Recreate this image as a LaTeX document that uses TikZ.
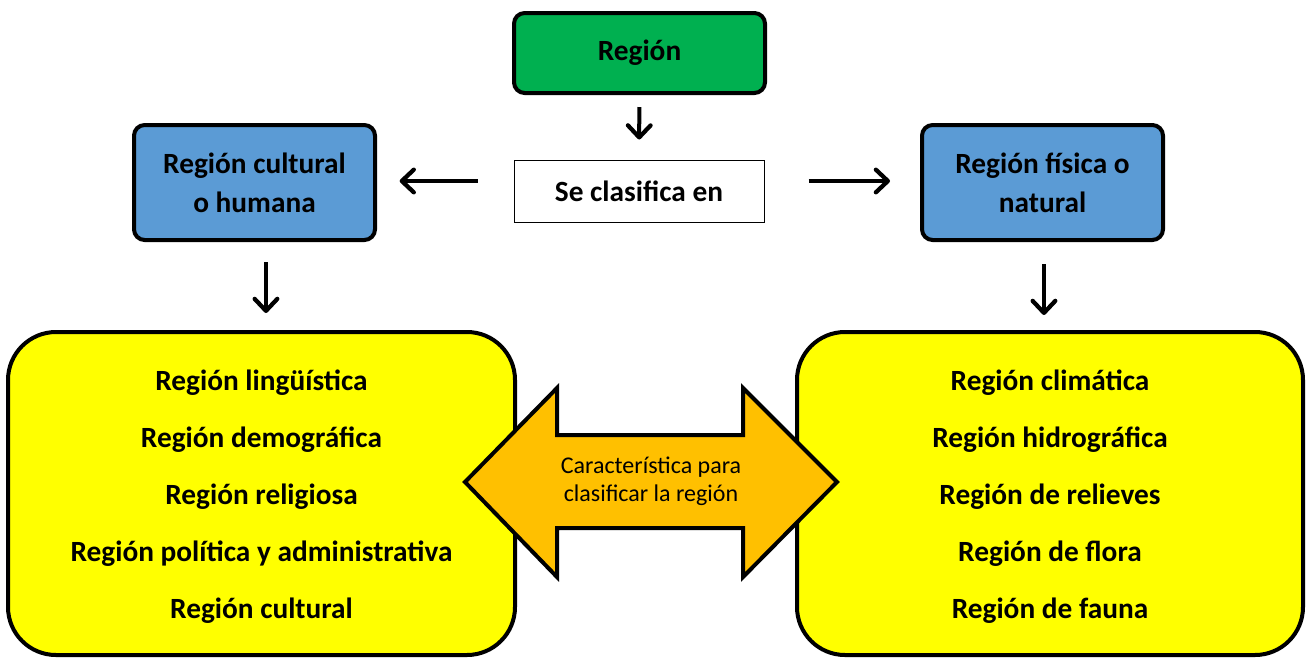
\documentclass[tikz,border=0pt]{standalone}
\usepackage{fontspec}
\setmainfont{Carlito}
\usetikzlibrary{arrows.meta,calc}
\definecolor{cgreen}{HTML}{00B050}
\definecolor{cblue}{HTML}{5B9BD5}
\definecolor{cyellow}{HTML}{FFFF00}
\definecolor{corange}{HTML}{FFC000}
\tikzset{
  box/.style={draw=black,line width=3pt,rounded corners=8pt,align=center,font=\fontsize{22}{26.5}\selectfont\bfseries,inner sep=0pt},
  bigbox/.style={draw=black,line width=3pt,rounded corners=36pt,fill=cyellow,inner sep=0pt},
  listtext/.style={align=center,inner sep=0pt,font=\fontsize{22}{42.75}\selectfont\bfseries},
  conn/.style={line width=3pt,-{Straight Barb[length=9pt,width=17pt,line width=3.2pt,round]}}
}
\begin{document}
\begin{tikzpicture}[x=0.75pt,y=-0.75pt]
\useasboundingbox (0,0) rectangle (1307,658);
\node[box,fill=cgreen,minimum width=188.25pt,minimum height=60pt] (reg) at (639.5,53) {Región};
\node[draw=black,line width=0.75pt,minimum width=187.5pt,minimum height=46.5pt,inner sep=0pt,
  font=\fontsize{22}{26.5}\selectfont\bfseries] (clas) at (639,191) {Se clasifica en};
\node[box,fill=cblue,minimum width=180.75pt,minimum height=86.25pt] (hum) at (254.5,182.5) {Región cultural\\[3pt]o humana};
\node[box,fill=cblue,minimum width=180.75pt,minimum height=86.25pt] (nat) at (1042.5,182.5) {Región física o\\[3pt]natural};
\node[bigbox,minimum width=380.25pt,minimum height=242.25pt] (yl) at (261.5,493.5) {};
\node[bigbox,minimum width=379.5pt,minimum height=242.25pt] (yr) at (1050,493.5) {};
\node[listtext] (ylt) at (261.5,497)
  {Región lingüística\\Región demográfica\\Región religiosa\\Región política y administrativa\\Región cultural};
\node[listtext] (yrt) at (1050,497)
  {Región climática\\Región hidrográfica\\Región de relieves\\Región de flora\\Región de fauna};
% double arrow
\draw[line width=3pt,fill=corange,line join=miter]
  (465,482) -- (557,388) -- (557,435) -- (743,435) -- (743,388) -- (837,482)
  -- (743,577) -- (743,528) -- (557,528) -- (557,577) -- cycle;
\node[align=center,font=\fontsize{18}{21}\selectfont] (car) at (651,481) {Característica para\\clasificar la región};
% connectors
\draw[conn,shorten <=9pt,shorten >=15pt] (reg) -- (clas);
\draw[conn,shorten <=27pt,shorten >=17pt] ([yshift=7.5pt]clas.west) -- ([yshift=7.5pt]clas.west -| hum.east);
\draw[conn,shorten <=33pt,shorten >=22.5pt] ([yshift=7.5pt]clas.east) -- ([yshift=7.5pt]clas.east -| nat.west);
\draw[conn,shorten <=15pt,shorten >=12.75pt] ([xshift=8.6pt]hum.south) -- ([xshift=8.6pt]hum.south |- yl.north);
\draw[conn,shorten <=16.5pt,shorten >=11.25pt] ([xshift=1.1pt]nat.south) -- ([xshift=1.1pt]nat.south |- yr.north);
\end{tikzpicture}
\end{document}
